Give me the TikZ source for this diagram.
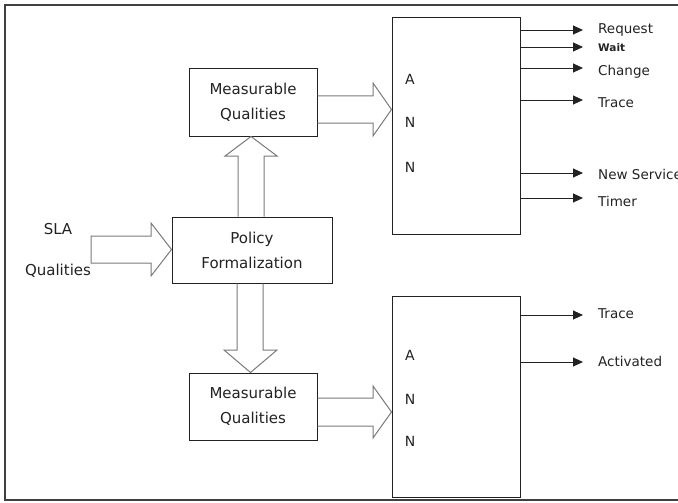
\documentclass[tikz,border=0pt]{standalone}
\usepackage{fontspec}
\setmainfont{DejaVu Sans}
\usetikzlibrary{arrows.meta}
\definecolor{ink}{HTML}{222222}
\definecolor{outline}{HTML}{7A7A7A}
\tikzset{
  box/.style={draw=ink, line width=1pt, rectangle, inner sep=0pt, text=ink,
              align=center, font=\fontsize{15}{25}\selectfont},
  blockarrow/.style={draw=outline, line width=1pt, line join=miter},
  outarrow/.style={draw=ink, line width=0.9pt, -{Triangle[length=10pt,width=9pt]}},
  outlabel/.style={anchor=west, inner sep=0pt, text=ink, font=\fontsize{13.5}{15}\selectfont},
  annletter/.style={inner sep=0pt, text=ink, font=\fontsize{14}{15}\selectfont},
  sidelabel/.style={inner sep=0pt, text=ink, font=\fontsize{15}{16}\selectfont},
}
\begin{document}
\begin{tikzpicture}[x=1pt, y=-1pt]
\useasboundingbox (0,0) rectangle (678,503);

% outer frame (open on the right)
\draw[line width=2pt, draw=black!75] (678,5) -- (5,5) -- (5,500) -- (678,500);

% boxes
\node[box, minimum width=128pt, minimum height=67pt] (mq1) at (253,102.5) {Measurable\\Qualities};
\node[box, minimum width=160pt, minimum height=66pt] (policy) at (252,250) {Policy\\Formalization};
\node[box, minimum width=128pt, minimum height=67pt] (mq2) at (253,406.5) {Measurable\\Qualities};
\node[box, minimum width=128pt, minimum height=216pt] (ann1) at (456,126) {};
\node[box, minimum width=128pt, minimum height=201pt] (ann2) at (456,396.5) {};

% letters inside the network boxes
\node[annletter] (a1) at (410,79) {A};
\node[annletter] (n11) at (410,122) {N};
\node[annletter] (n12) at (410,167) {N};
\node[annletter] (a2) at (410,355) {A};
\node[annletter] (n21) at (410,399) {N};
\node[annletter] (n22) at (410,441) {N};

% SLA input
\node[sidelabel] (sla) at (58,229) {SLA};
\node[sidelabel] (qual) at (58,271) {Qualities};
\coordinate (slatail) at (91,249.5);
\draw[blockarrow] (slatail |- 0,236) -- (151,236) -- (151,223) -- (policy.west |- 0,249.5)
  -- (151,276) -- (151,263) -- (slatail |- 0,263) -- cycle;

% policy -> upper measurable qualities
\draw[blockarrow] (238,0 |- policy.north) -- (238,156) -- (225,156) -- (251,0 |- mq1.south)
  -- (277,156) -- (264,156) -- (264,0 |- policy.north);

% policy -> lower measurable qualities
\draw[blockarrow] (237,0 |- policy.south) -- (237,350) -- (224,350) -- (250.5,0 |- mq2.north)
  -- (277,350) -- (263,350) -- (263,0 |- policy.south);

% measurable qualities -> networks
\draw[blockarrow] (mq1.east |- 0,96) -- (373,96) -- (373,83) -- (ann1.west |- 0,109.5)
  -- (373,136) -- (373,123) -- (mq1.east |- 0,123);
\draw[blockarrow] (mq2.east |- 0,398) -- (373,398) -- (373,386) -- (ann2.west |- 0,412)
  -- (373,438) -- (373,426) -- (mq2.east |- 0,426);

% outputs of the upper network
\foreach \name/\y in {req/30, wait/47, chg/68, tr1/100, nsv/173, tmr/198}{
  \coordinate (\name) at (583,\y);
  \draw[outarrow] (ann1.east |- \name) -- (\name);
}
\node[outlabel] (lreq) at (598,30) {Request};
\node[outlabel, font=\fontsize{10.5}{12}\selectfont\bfseries] (lwait) at (598,48) {Wait};
\node[outlabel] (lchg) at (598,72) {Change};
\node[outlabel] (ltr1) at (598,103) {Trace};
\node[outlabel] (lnsv) at (598,174) {New Service};
\node[outlabel] (ltmr) at (598,201) {Timer};

% outputs of the lower network
\foreach \name/\y in {tr2/315, act/362}{
  \coordinate (\name) at (583,\y);
  \draw[outarrow] (ann2.east |- \name) -- (\name);
}
\node[outlabel] (ltr2) at (598,314) {Trace};
\node[outlabel] (lact) at (598,361) {Activated};
\end{tikzpicture}
\end{document}
